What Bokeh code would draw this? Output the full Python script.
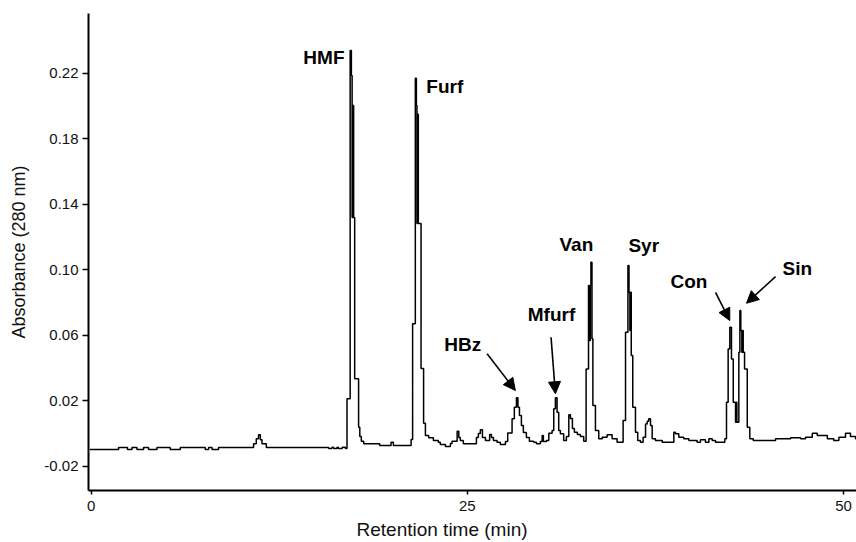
from bokeh.plotting import figure
from bokeh.models import Range1d, FixedTicker, PrintfTickFormatter, Label, Arrow, NormalHead, Title
from bokeh.embed import file_html
from bokeh.resources import INLINE

# Chromatogram samples (retention time, absorbance)
time_min = [
    -0.1, 1.82, 2.41, 2.71, 3.04, 3.48, 3.81, 4.37, 5.25, 5.92, 7.58, 7.80, 8.03, 8.46,
    10.79, 10.97, 11.12, 11.24, 11.35, 11.64,
    15.78, 16.00, 16.11, 16.34, 16.42, 16.69, 16.89,
    17.00, 17.21, 17.29, 17.34, 17.39, 17.44, 17.51, 17.77, 17.85, 17.95, 18.11,
    19.17, 19.93, 20.08, 21.26,
    21.36, 21.54, 21.61, 21.65, 21.69, 21.74, 21.92, 22.09, 22.21, 22.43, 22.74,
    23.07, 23.20, 23.54, 23.87, 23.98, 24.32, 24.43, 24.53, 24.73,
    25.60, 25.73, 25.86, 26.00, 26.20, 26.48, 26.60, 26.73, 26.97, 27.19, 27.53,
    27.68, 27.97, 28.12, 28.26, 28.36, 28.46, 28.59, 28.72, 28.92, 29.12, 29.41,
    29.59, 29.85, 29.97, 30.05, 30.25, 30.41, 30.63, 30.74, 30.85, 30.96, 31.07,
    31.18, 31.40, 31.58, 31.74, 31.85, 31.98, 32.11, 32.31, 32.51, 32.73,
    32.89, 33.05, 33.11, 33.17, 33.21, 33.28, 33.34, 33.51, 33.73, 33.96, 34.29,
    34.62, 34.95,
    35.35, 35.51, 35.67, 35.74, 35.80, 35.84, 35.89, 35.99, 36.17, 36.32, 36.50,
    36.68, 36.84, 36.95, 37.05, 37.17, 37.28, 37.50, 37.95, 38.72, 38.83, 39.05,
    39.38, 39.72, 40.27, 40.49, 40.82, 41.05, 41.27, 41.49, 42.11,
    42.22, 42.33, 42.44, 42.55, 42.67, 42.82, 42.87, 42.91, 43.04, 43.11, 43.17,
    43.24, 43.28, 43.33, 43.42, 43.60, 43.77, 44.00, 45.48, 46.48, 47.14, 47.47,
    47.92, 48.25, 48.92, 49.35, 49.69, 50.13, 50.46, 50.80, 51.20,
]
absorbance = [
    -0.0099, -0.0087, -0.0099, -0.0087, -0.0099, -0.0087, -0.0099, -0.0087, -0.0099, -0.0087, -0.0099, -0.0087, -0.0099, -0.0087,
    -0.0064, -0.0033, -0.0009, -0.0039, -0.0064, -0.0087,
    -0.0093, -0.0085, -0.0093, -0.0085, -0.0093, -0.0085, -0.0093,
    0.0211, 0.2339, 0.2186, 0.1318, 0.2003, 0.1318, 0.0333, 0.0038, -0.0019, -0.0048, -0.0064,
    -0.0074, -0.0054, -0.0074, -0.0038,
    0.0669, 0.2169, 0.2003, 0.1282, 0.1950, 0.1282, 0.0396, 0.0062, -0.0013, -0.0027, -0.0044,
    -0.0054, -0.0068, -0.0080, -0.0062, -0.0048, 0.0013, -0.0025, -0.0044, -0.0064,
    -0.0025, -0.0001, 0.0022, -0.0025, -0.0044, -0.0007, -0.0025, -0.0044, -0.0054, -0.0068, -0.0050,
    0.0003, 0.0089, 0.0160, 0.0217, 0.0160, 0.0109, 0.0048, 0.0005, -0.0025, -0.0048, -0.0054,
    -0.0064, -0.0050, -0.0013, -0.0050, -0.0044, 0.0001, 0.0017, 0.0150, 0.0217, 0.0129, 0.0017,
    -0.0003, -0.0044, -0.0019, 0.0113, 0.0091, 0.0030, 0.0007, -0.0007, -0.0019, -0.0048,
    0.0394, 0.0903, 0.0567, 0.0903, 0.1045, 0.0578, 0.0170, 0.0017, -0.0033, -0.0024, -0.0009,
    -0.0033, -0.0054,
    0.0078, 0.0618, 0.1025, 0.0862, 0.0628, 0.0862, 0.0476, 0.0160, 0.0007, -0.0044, -0.0054,
    -0.0024, 0.0058, 0.0074, 0.0089, 0.0048, -0.0033, -0.0044, -0.0054, 0.0007, -0.0003, -0.0024,
    -0.0033, -0.0044, -0.0054, -0.0039, -0.0054, -0.0033, -0.0044, -0.0054, -0.0033,
    0.0190, 0.0516, 0.0648, 0.0455, 0.0190, 0.0068, 0.0190, 0.0068, 0.0496, 0.0750, 0.0628,
    0.0496, 0.0628, 0.0496, 0.0394, 0.0038, -0.0033, -0.0044, -0.0033, -0.0027, -0.0033, -0.0024,
    0.0001, -0.0013, -0.0033, -0.0044, -0.0024, 0.0001, -0.0019, -0.0033, -0.0033,
]

# Axis ticks
y_ticks = [-0.02, 0.02, 0.06, 0.10, 0.14, 0.18, 0.22]
x_ticks = [0, 25, 50]

# Peak labels (text, x, y) and arrows (x0, y0, x1, y1)
peak_names = ["HMF", "Furf", "HBz", "Mfurf", "Van", "Syr", "Con", "Sin"]
peak_label_x = [14.10, 22.27, 23.47, 29.01, 31.12, 35.70, 38.50, 45.94]
peak_label_y = [0.2295, 0.2118, 0.0545, 0.0724, 0.1155, 0.1150, 0.0927, 0.1005]
arrow_x0 = [26.31, 30.56, 41.49, 45.48]
arrow_y0 = [0.0486, 0.0587, 0.0862, 0.0958]
arrow_x1 = [28.19, 30.85, 42.44, 43.55]
arrow_y1 = [0.0262, 0.0242, 0.0689, 0.0795]

FONT = "Liberation Sans"

p = figure(width=856, height=542, output_backend="svg", toolbar_location=None,
           x_range=Range1d(-0.18, 50.86), y_range=Range1d(-0.0349, 0.2565),
           min_border_left=88, min_border_right=0, min_border_top=13, min_border_bottom=20)
p.outline_line_color = None
p.grid.visible = False
p.background_fill_color = "white"
p.border_fill_color = "white"

p.step(time_min, absorbance, mode="after", line_color="black", line_width=1.5)

for ax in (p.xaxis[0], p.yaxis[0]):
    ax.axis_line_color = "black"
    ax.axis_line_width = 2
    ax.major_tick_line_color = "black"
    ax.major_tick_line_width = 1.5
    ax.major_tick_in = 0
    ax.minor_tick_line_color = None
    ax.major_label_text_font = FONT
    ax.major_label_text_font_size = "15px"
    ax.major_label_text_color = "#111111"
    ax.axis_label_text_font = FONT
    ax.axis_label_text_font_style = "normal"
    ax.axis_label_text_font_size = "18px"
    ax.axis_label_text_color = "#111111"

p.yaxis[0].ticker = FixedTicker(ticks=y_ticks)
p.yaxis[0].formatter = PrintfTickFormatter(format="%.2f")
p.yaxis[0].major_tick_out = 6
p.yaxis[0].major_label_standoff = 4
p.yaxis[0].axis_label = "Absorbance (280 nm)"
p.yaxis[0].axis_label_standoff = 12

p.xaxis[0].ticker = FixedTicker(ticks=x_ticks)
p.xaxis[0].major_tick_out = 4
p.xaxis[0].major_label_standoff = 6

p.add_layout(Title(text="Retention time (min)", align="left", offset=268,
                   text_font=FONT, text_font_size="19px", text_font_style="normal",
                   text_color="#111111", standoff=6), "below")

for name, lx, ly in zip(peak_names, peak_label_x, peak_label_y):
    p.add_layout(Label(x=lx, y=ly, text=name, text_font=FONT, text_font_size="19px",
                       text_font_style="bold", text_color="black",
                       text_align="left", text_baseline="alphabetic"))

for x0, y0, x1, y1 in zip(arrow_x0, arrow_y0, arrow_x1, arrow_y1):
    p.add_layout(Arrow(x_start=x0, y_start=y0, x_end=x1, y_end=y1, line_width=1.6,
                       line_color="black",
                       end=NormalHead(size=12, fill_color="black", line_color="black")))

open("out.html", "w").write(file_html(p, INLINE))
